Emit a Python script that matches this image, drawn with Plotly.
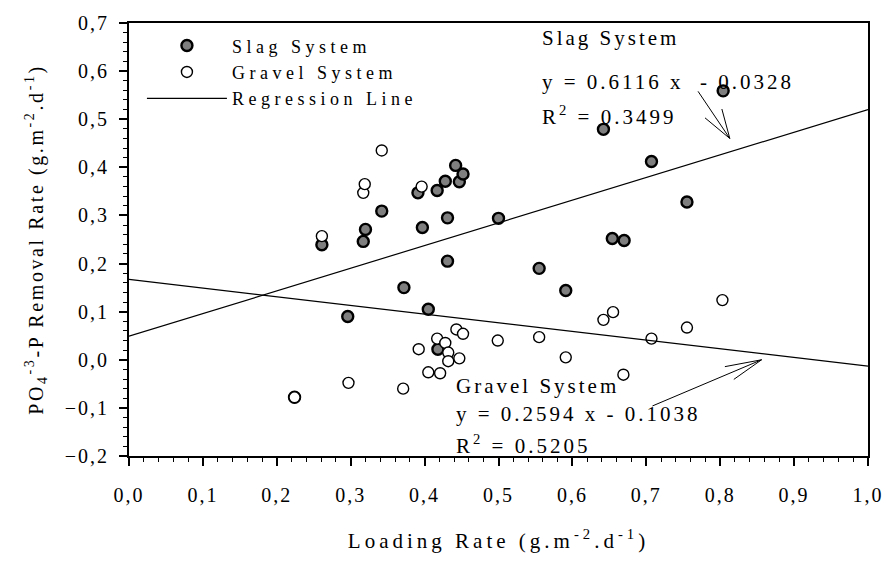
import plotly.graph_objects as go

# ---- data ----
slag_x = [0.224, 0.261, 0.296, 0.317, 0.320, 0.342, 0.372, 0.391, 0.397, 0.405,
          0.417, 0.418, 0.428, 0.431, 0.431, 0.442, 0.447, 0.452, 0.500, 0.555,
          0.591, 0.642, 0.654, 0.670, 0.707, 0.755, 0.804]
slag_y = [-0.078, 0.239, 0.090, 0.246, 0.271, 0.309, 0.150, 0.347, 0.275, 0.105,
          0.352, 0.022, 0.371, 0.295, 0.205, 0.404, 0.370, 0.386, 0.294, 0.190,
          0.144, 0.479, 0.252, 0.248, 0.412, 0.328, 0.559]

gravel_x = [0.224, 0.261, 0.297, 0.317, 0.319, 0.342, 0.371, 0.392, 0.396, 0.405,
            0.417, 0.421, 0.428, 0.432, 0.432, 0.443, 0.447, 0.452, 0.499, 0.555,
            0.591, 0.642, 0.655, 0.669, 0.707, 0.755, 0.803]
gravel_y = [-0.078, 0.257, -0.048, 0.347, 0.365, 0.435, -0.060, 0.022, 0.360, -0.026,
            0.044, -0.028, 0.035, 0.015, -0.003, 0.063, 0.003, 0.054, 0.040, 0.047,
            0.005, 0.083, 0.099, -0.031, 0.044, 0.067, 0.124]

# regression lines as drawn (slope, intercept)
slag_fit = (0.471, 0.049)
gravel_fit = (-0.180, 0.167)
fit_x = [0.0, 1.0]

x_ticks = [0.0, 0.1, 0.2, 0.3, 0.4, 0.5, 0.6, 0.7, 0.8, 0.9, 1.0]
y_ticks = [-0.2, -0.1, 0.0, 0.1, 0.2, 0.3, 0.4, 0.5, 0.6, 0.7]

slag_label = ["Slag System", "y = 0.6116 x  - 0.0328", "R<sup>2</sup> = 0.3499"]
gravel_label = ["Gravel System", "y = 0.2594 x - 0.1038", "R<sup>2</sup> = 0.5205"]

FONT = "Liberation Serif, Times New Roman, serif"
W, H = 893, 564
M = dict(l=129, r=19, t=15, b=108)
X_RANGE = [0.0, 1.0]
Y_RANGE = [-0.2, 0.7]

fig = go.Figure()
fig.add_trace(go.Scatter(
    x=slag_x, y=slag_y, mode="markers", name="Slag System",
    marker=dict(symbol="circle", size=11, color="#7f7f7f",
                line=dict(color="black", width=2.4))))
fig.add_trace(go.Scatter(
    x=gravel_x, y=gravel_y, mode="markers", name="Gravel System",
    marker=dict(symbol="circle", size=11, color="white",
                line=dict(color="black", width=1.4))))
fig.add_trace(go.Scatter(
    x=fit_x, y=[slag_fit[0] * v + slag_fit[1] for v in fit_x],
    mode="lines", name="Regression Line", line=dict(color="black", width=1.2)))
fig.add_trace(go.Scatter(
    x=fit_x, y=[gravel_fit[0] * v + gravel_fit[1] for v in fit_x],
    mode="lines", showlegend=False, line=dict(color="black", width=1.2)))

ann = []
for txt, yy in zip(slag_label, [0.668, 0.578, 0.508]):
    ann.append(dict(x=0.556, y=yy, text=txt, showarrow=False, xanchor="left",
                    yanchor="middle", align="left",
                    font=dict(size=21, family=FONT, color="black")))
for txt, yy in zip(gravel_label, [-0.055, -0.112, -0.176]):
    ann.append(dict(x=0.440, y=yy, text=txt, showarrow=False, xanchor="left",
                    yanchor="middle", align="left",
                    font=dict(size=21, family=FONT, color="black")))

# arrows: shaft + two barbs (open V head); offsets in pixels from the tip
px_per_x = (W - M["l"] - M["r"]) / (X_RANGE[1] - X_RANGE[0])
px_per_y = (H - M["t"] - M["b"]) / (Y_RANGE[1] - Y_RANGE[0])
arrow_parts = [
    (0.813, 0.460, [(-32, -48), (-25, -21), (-8, -30)]),
    (0.856, 0.000, [(-110, 47), (-37, 7), (-28, 20)]),
]
shapes = []
for tx, ty, parts in arrow_parts:
    for ax, ay in parts:
        shapes.append(dict(type="line", xref="x", yref="y",
                           x0=tx + ax / px_per_x, y0=ty - ay / px_per_y, x1=tx, y1=ty,
                           line=dict(color="black", width=1)))

axis_common = dict(
    showgrid=False, zeroline=False, showline=True, linecolor="black", linewidth=2,
    mirror=True, ticks="outside", ticklen=8, tickwidth=1.5, tickcolor="black",
    tickformat=".1f", tickfont=dict(size=20, family=FONT, color="black"),
    minor=dict(ticks="outside", ticklen=4, tickwidth=1, tickcolor="black"),
)

fig.update_layout(
    width=W, height=H,
    margin=M,
    paper_bgcolor="white", plot_bgcolor="white",
    separators=", ",
    font=dict(family=FONT, color="black"),
    xaxis=dict(range=X_RANGE, tickvals=x_ticks, ticklabelstandoff=12,
               minor_dtick=0.02,
               title=dict(text="Loading Rate (g.m<sup>-2</sup>.d<sup>-1</sup>)",
                          font=dict(size=21, family=FONT), standoff=28),
               **axis_common),
    yaxis=dict(range=Y_RANGE, tickvals=y_ticks, ticklabelstandoff=6,
               minor_dtick=0.02,
               title=dict(text="PO<sub>4</sub><sup>-3</sup>-P Removal Rate (g.m<sup>-2</sup>.d<sup>-1</sup>)",
                          font=dict(size=20, family=FONT), standoff=24),
               **axis_common),
    legend=dict(x=0.0175, y=0.99, xanchor="left", yanchor="top",
                bgcolor="rgba(0,0,0,0)", itemwidth=80,
                font=dict(size=18, family=FONT, color="black")),
    annotations=ann,
    shapes=shapes,
    showlegend=True,
)

post = """
document.body.style.margin = '0';
document.body.style.padding = '0';
var gd = document.getElementById('{plot_id}');
function spaceText(){
  gd.querySelectorAll('.annotation-text').forEach(function(t){ t.style.letterSpacing='3px'; });
  gd.querySelectorAll('.legendtext').forEach(function(t){ t.style.letterSpacing='4.5px'; });
  gd.querySelectorAll('.xtick text, .ytick text').forEach(function(t){ t.style.letterSpacing='2px'; });
  gd.querySelectorAll('.g-xtitle text').forEach(function(t){ t.style.letterSpacing='4px'; });
  gd.querySelectorAll('.g-ytitle text').forEach(function(t){ t.style.letterSpacing='2.6px'; });
  gd.querySelectorAll('.legend [clip-path]').forEach(function(e){ e.removeAttribute('clip-path'); });
}
spaceText();
gd.on('plotly_afterplot', spaceText);
"""
fig.write_html("out.html", post_script=post, config={"displayModeBar": False})
